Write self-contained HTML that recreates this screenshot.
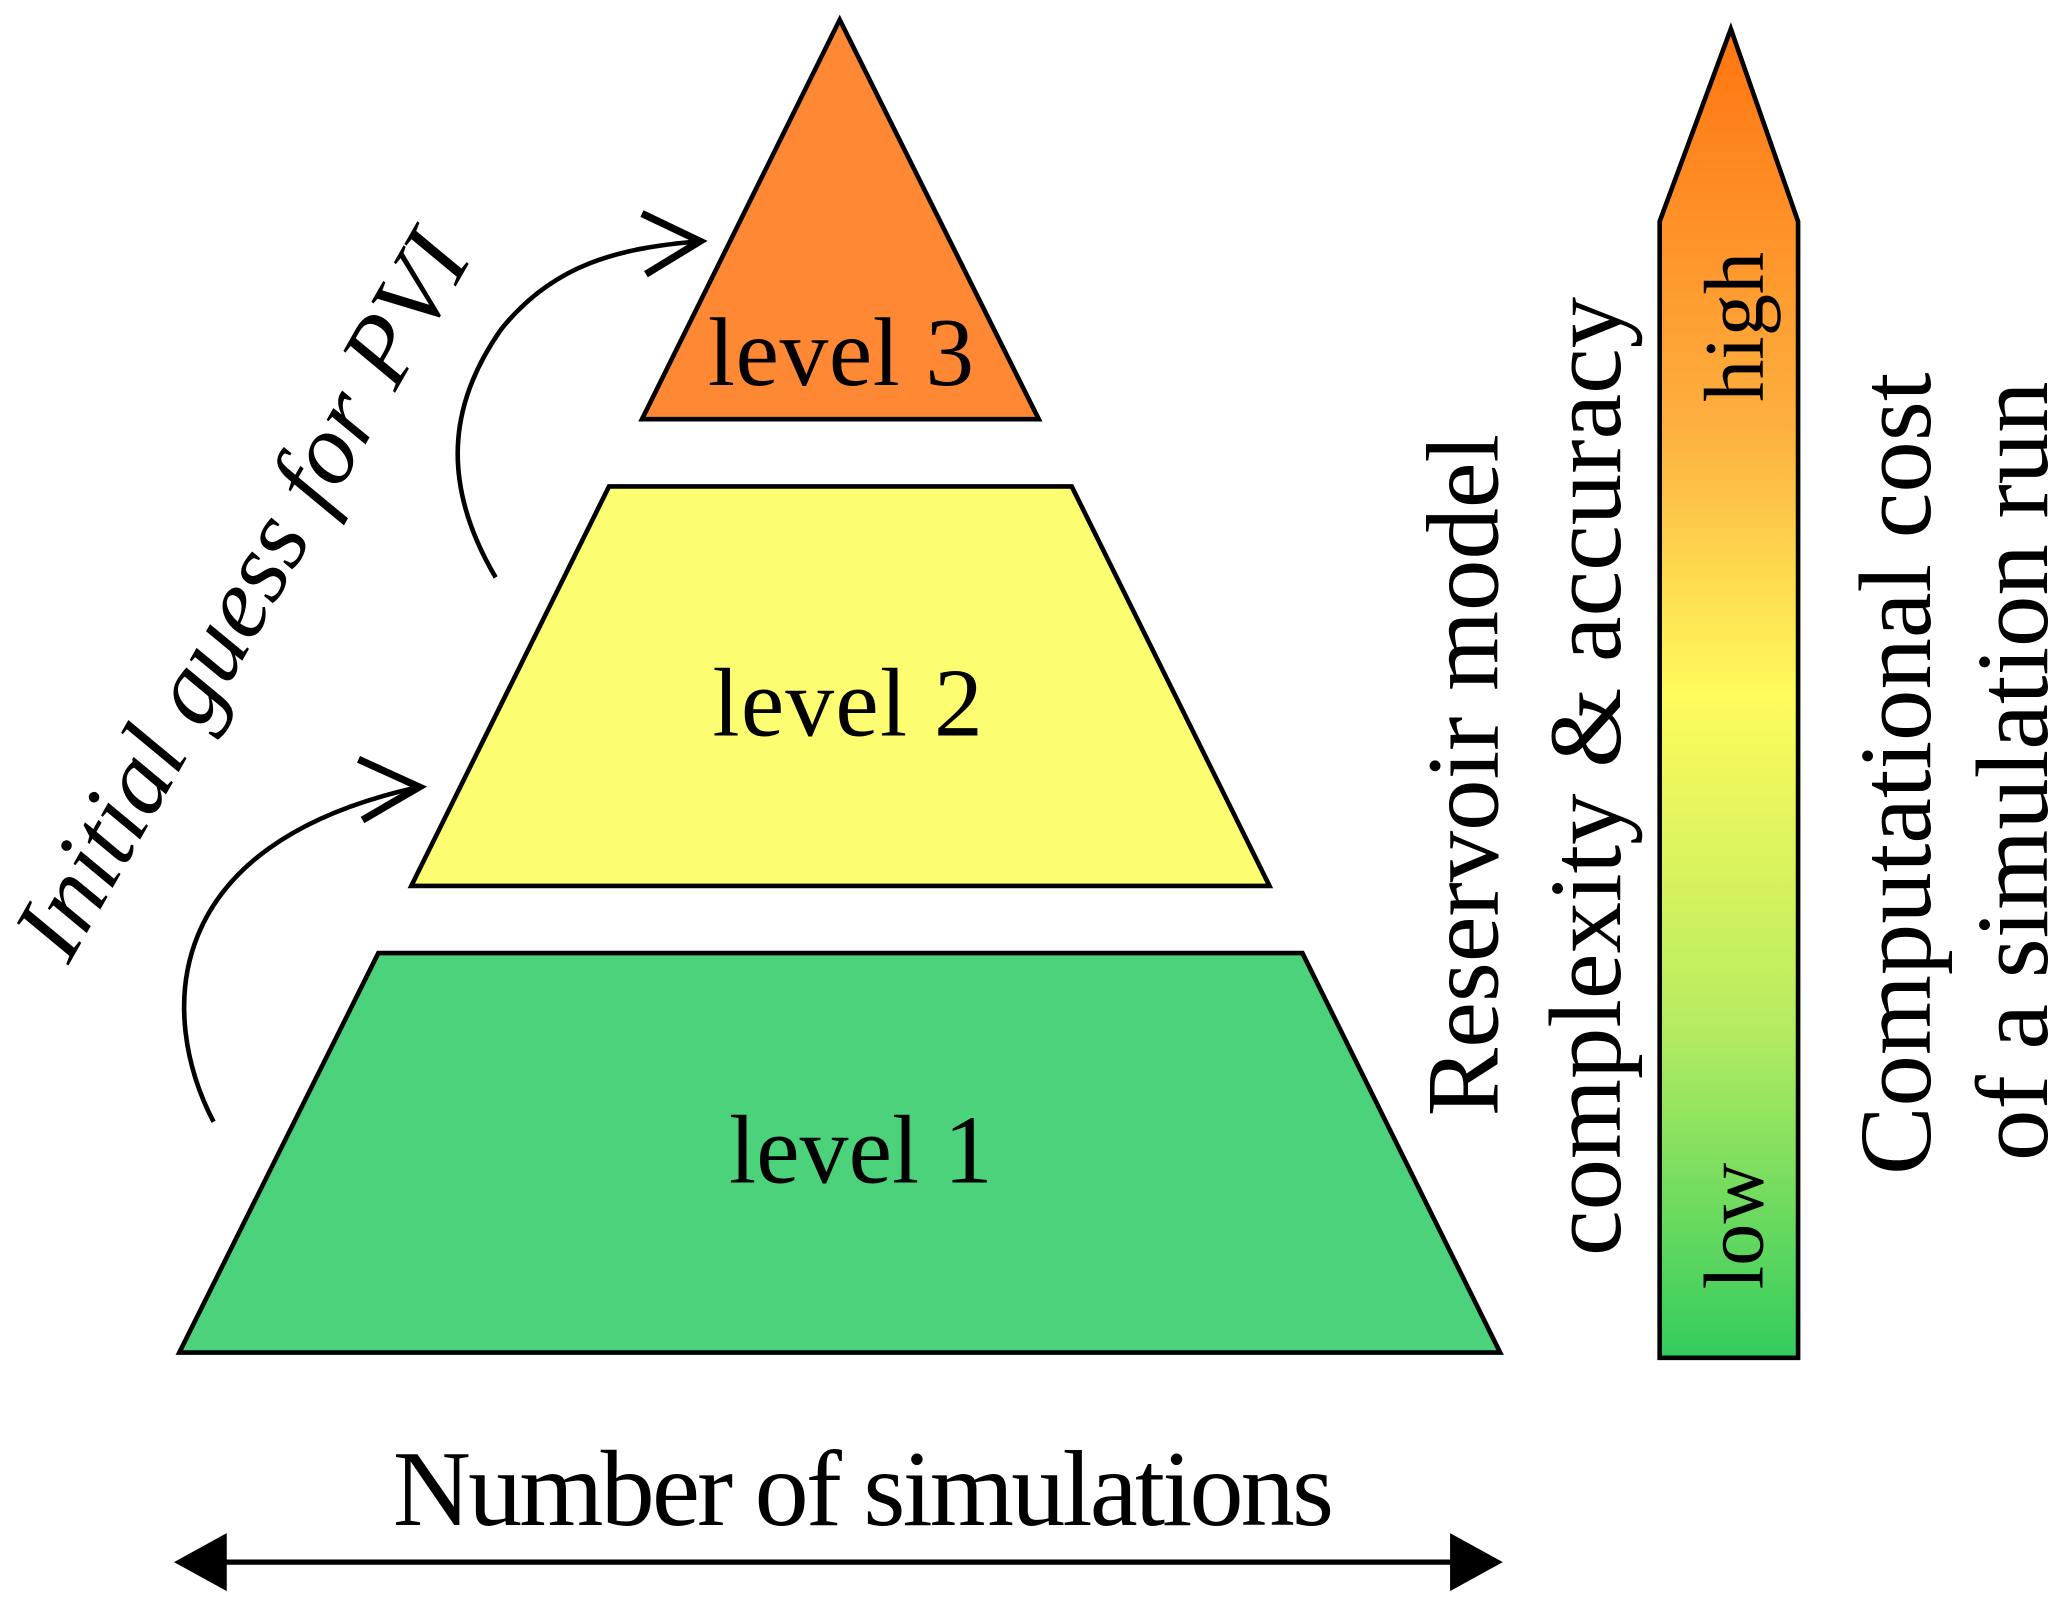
<!DOCTYPE html>
<html><head><meta charset="utf-8"><style>html,body{margin:0;padding:0;background:#fff}svg{display:block}</style></head>
<body>
<svg width="2067" height="1605" viewBox="0 0 1568 1217.5" preserveAspectRatio="none" xmlns="http://www.w3.org/2000/svg" font-family="'Liberation Serif', serif">
<defs>
<linearGradient id="bar" x1="0" y1="0" x2="0" y2="1">
<stop offset="0" stop-color="#ff7410"/>
<stop offset="0.3" stop-color="#fdb040"/>
<stop offset="0.5" stop-color="#fffb5c"/>
<stop offset="0.75" stop-color="#b6ec60"/>
<stop offset="1" stop-color="#33cc5e"/>
</linearGradient>
</defs>
<polygon points="637,15 788,318 487,318" fill="#ff8834" stroke="#000" stroke-width="3.5" stroke-linejoin="miter"/>
<polygon points="462,369 813,369 963,672 312,672" fill="#fdfd72" stroke="#000" stroke-width="3.5"/>
<polygon points="287,723 988,723 1138,1026 136,1026" fill="#4bd27a" stroke="#000" stroke-width="3.5"/>
<text x="638" y="292" font-size="74" text-anchor="middle" textLength="202">level 3</text>
<text x="643" y="558" font-size="74" text-anchor="middle" textLength="205">level 2</text>
<text x="653" y="897" font-size="74" text-anchor="middle" textLength="200">level 1</text>
<g fill="none" stroke="#000" stroke-width="3.5">
<path d="M162,851 C120,770 120,640 318,597"/>
<path d="M376,438 C330,360 345,300 380,250 C420,200 470,188 531,183"/>
</g>
<g fill="none" stroke="#000" stroke-width="5.5">
<path d="M272,576 L318,597 L275,622"/>
<path d="M487,162 L531,183 L490,208"/>
</g>
<text transform="translate(190,455) rotate(-60.3)" font-size="76" font-style="italic" text-anchor="middle" dominant-baseline="middle">Initial guess for PVI</text>
<polygon points="1313,22 1364,168 1364,1030 1259,1030 1259,168" fill="url(#bar)" stroke="#000" stroke-width="3.5"/>
<text transform="translate(1337,248) rotate(-90)" font-size="64" text-anchor="middle">high</text>
<text transform="translate(1337,930) rotate(-90)" font-size="64" text-anchor="middle">low</text>
<text transform="translate(1136,588) rotate(-90)" font-size="78" text-anchor="middle">Reservoir model</text>
<text transform="translate(1229,589) rotate(-90)" font-size="78" text-anchor="middle">complexity &amp; accuracy</text>
<text transform="translate(1464,587) rotate(-90)" font-size="78" text-anchor="middle">Computational cost</text>
<text transform="translate(1553,585) rotate(-90)" font-size="78" text-anchor="middle">of a simulation run</text>
<text x="655" y="1157" font-size="82" text-anchor="middle" textLength="714">Number of simulations</text>
<line x1="160" y1="1185" x2="1112" y2="1185" stroke="#000" stroke-width="4"/>
<polygon points="132,1185 172,1163 172,1207" fill="#000"/>
<polygon points="1140,1185 1100,1163 1100,1207" fill="#000"/>
</svg>
</body></html>
